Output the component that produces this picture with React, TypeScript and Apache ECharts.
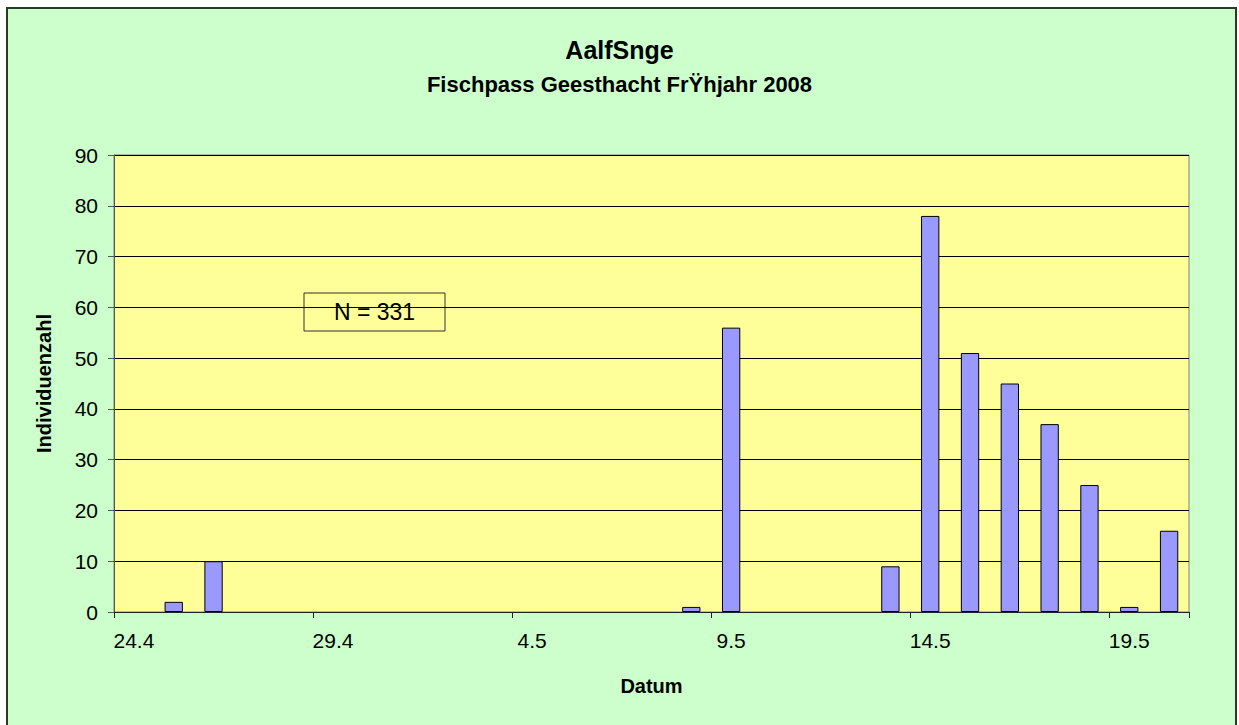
import React, { useEffect, useRef } from "react";
import * as echarts from "echarts";

const categories = [
  "24.4", "25.4", "26.4", "27.4", "28.4", "29.4", "30.4",
  "1.5", "2.5", "3.5", "4.5", "5.5", "6.5", "7.5", "8.5", "9.5",
  "10.5", "11.5", "12.5", "13.5", "14.5", "15.5", "16.5", "17.5", "18.5", "19.5", "20.5",
];
const counts = [
  0, 2, 10, 0, 0, 0, 0,
  0, 0, 0, 0, 0, 0, 0, 1, 56,
  0, 0, 0, 9, 78, 51, 45, 37, 25, 1, 16,
];
const titleText = "AalfSnge";
const subtitleText = "Fischpass Geesthacht FrŸhjahr 2008";
const xAxisName = "Datum";
const yAxisName = "Individuenzahl";
const annotationText = "N = 331";
const yMin = 0;
const yMax = 90;
const yInterval = 10;

const FONT = "'Liberation Sans', Arial, Helvetica, sans-serif";

export default function App() {
  const ref = useRef<HTMLDivElement>(null);

  useEffect(() => {
    if (!ref.current) return;
    const chart = echarts.init(ref.current, null, { renderer: "svg" });
    const barData = counts.map((v) =>
      v === 0 ? { value: v, itemStyle: { borderWidth: 0, opacity: 0 } } : v
    );
    chart.setOption({
      animation: false,
      backgroundColor: "transparent",
      title: [
        {
          text: titleText,
          left: "center",
          top: 32,
          textStyle: { fontFamily: FONT, fontSize: 25, fontWeight: "bold", color: "#000" },
        },
        {
          text: subtitleText,
          left: "center",
          top: 68,
          textStyle: { fontFamily: FONT, fontSize: 22, fontWeight: "bold", color: "#000" },
        },
      ],
      graphic: [
        {
          type: "rect",
          z: -10,
          silent: true,
          shape: { x: 7, y: 8, width: 1229, height: 730 },
          style: { fill: "#CCFFCC", stroke: "#2a3a2a", lineWidth: 2 },
        },
        {
          type: "group",
          z: 100,
          children: [
            {
              type: "rect",
              shape: { x: 304, y: 293, width: 141, height: 38 },
              style: { fill: "#FFFF99", stroke: "#333", lineWidth: 1 },
            },
            {
              type: "text",
              x: 374.5,
              y: 312,
              style: {
                text: annotationText,
                fontFamily: FONT,
                fontSize: 23,
                fill: "#000",
                align: "center",
                verticalAlign: "middle",
              },
            },
          ],
        },
      ],
      grid: {
        left: 114,
        top: 155,
        width: 1075,
        height: 457,
        show: true,
        backgroundColor: "#FFFF99",
        borderColor: "#808080",
        borderWidth: 1,
        containLabel: false,
      },
      xAxis: {
        type: "category",
        data: categories,
        boundaryGap: true,
        name: xAxisName,
        nameLocation: "middle",
        nameGap: 64,
        nameTextStyle: { fontFamily: FONT, fontSize: 20, fontWeight: "bold", color: "#000" },
        axisLine: { show: true, lineStyle: { color: "#222", width: 1 } },
        axisTick: { show: true, interval: 4, length: 6, alignWithLabel: false, lineStyle: { color: "#222" } },
        axisLabel: { interval: 4, margin: 18, fontFamily: FONT, fontSize: 21, color: "#000" },
        splitLine: { show: false },
      },
      yAxis: {
        type: "value",
        min: yMin,
        max: yMax,
        interval: yInterval,
        name: yAxisName,
        nameLocation: "middle",
        nameGap: 60,
        nameRotate: 90,
        nameTextStyle: { fontFamily: FONT, fontSize: 20, fontWeight: "bold", color: "#000" },
        axisLine: { show: true, lineStyle: { color: "#555", width: 1 } },
        axisTick: { show: true, length: 6, lineStyle: { color: "#555" } },
        axisLabel: { margin: 16, fontFamily: FONT, fontSize: 21, color: "#000" },
        splitLine: { show: true, lineStyle: { color: "#000", width: 1 } },
      },
      series: [
        {
          type: "bar",
          data: barData,
          barWidth: "46%",
          itemStyle: { color: "#9999FF", borderColor: "#000", borderWidth: 1 },
        },
      ],
    });
    return () => chart.dispose();
  }, []);

  return (
    <div
      ref={ref}
      style={{ position: "absolute", left: 0, top: 0, width: 1239, height: 725 }}
    />
  );
}
